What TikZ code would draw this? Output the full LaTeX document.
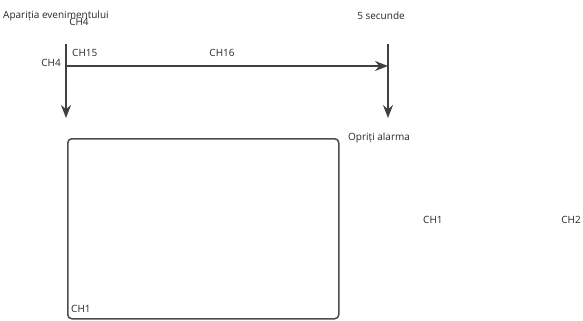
\documentclass[tikz,border=0pt]{standalone}
\usepackage{fontspec}
\setmainfont{Open Sans}
\usetikzlibrary{arrows.meta}
\begin{document}
\begin{tikzpicture}[x=1bp,y=-1bp,
  lbl/.style={inner sep=0pt,font=\fontsize{10bp}{12bp}\selectfont,text=black!85},
  conn/.style={draw=black!75,line width=1.6bp,-{Stealth[length=13bp,width=10bp]}},
  plain/.style={draw=black!75,line width=1.6bp}]
\useasboundingbox (0,0) rectangle (583,320);
\node[lbl,anchor=west] (evt) at (3,16) {Apariția evenimentului};
\node[lbl] (ch4a) at (79,22) {CH4};
\node[lbl,anchor=east] (ch4b) at (61,63) {CH4};
\node[lbl,anchor=west] (ch15) at (72,53) {CH15};
\node[lbl] (ch16) at (222,53) {CH16};
\node[lbl] (sec) at (381,16) {5 secunde};
\node[lbl,anchor=west] (stop) at (348,138) {Opriți alarma};
\node[lbl,anchor=west] (ch1a) at (423,220) {CH1};
\node[lbl,anchor=east] (ch2) at (581,220) {CH2};
\coordinate (lt) at (66,44);
\coordinate (lj) at (66,66);
\coordinate (lb) at (66,118);
\coordinate (rt) at (388,44);
\coordinate (rj) at (388,66);
\coordinate (rb) at (388,118);
\draw[conn] (lt) -- (lb);
\draw[conn] (rt) -- (rb);
\draw[conn] (lj) -- (rj);
\node[draw=black!70,line width=1.5bp,rounded corners=4bp,minimum width=271bp,minimum height=180bp,anchor=north west,inner sep=0pt] (box) at (67,138) {};
\node[lbl,anchor=west] (ch1b) at (71,309) {CH1};
\end{tikzpicture}
\end{document}
